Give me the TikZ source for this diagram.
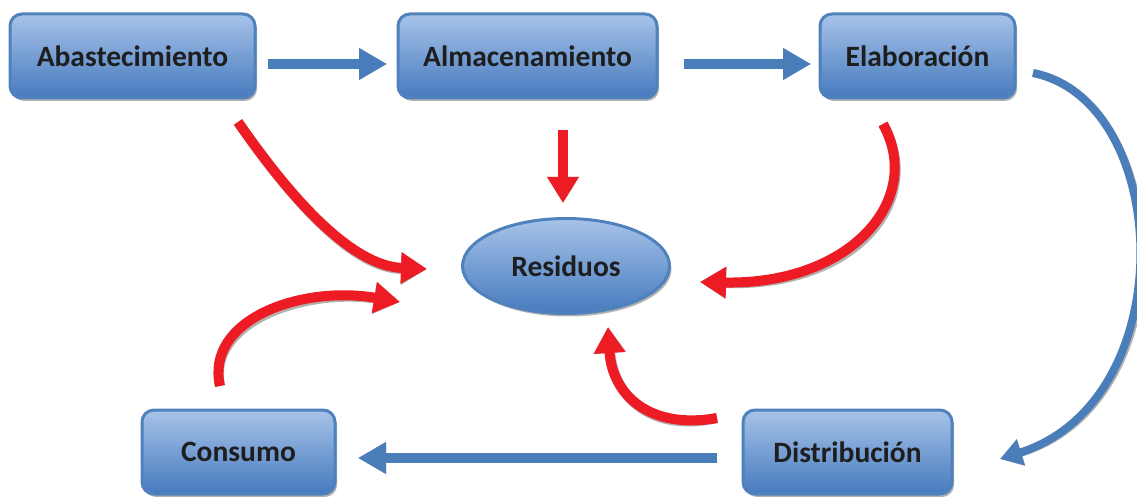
\documentclass[tikz,border=0pt]{standalone}
\usepackage{fontspec}
\setmainfont{Carlito}
\usetikzlibrary{arrows.meta,shadows,shapes.geometric}
\definecolor{boxline}{RGB}{79,129,189}
\definecolor{boxtop}{RGB}{167,195,233}
\definecolor{boxbot}{RGB}{70,122,190}
\definecolor{arrblue}{RGB}{74,126,187}
\definecolor{arrred}{RGB}{237,28,36}
\definecolor{txt}{RGB}{30,30,30}
\definecolor{shd}{RGB}{178,178,178}
\newcommand\shadowarrow[2]{\draw[#1,draw=shd,shift={(2,3)}] #2; \draw[#1] #2;}
\begin{document}
\begin{tikzpicture}[x=1pt,y=-1pt,
  procbox/.style={draw=boxline, line width=3pt, top color=boxtop, bottom color=boxbot,
    rounded corners=12pt, inner sep=0pt, text=txt,
    font=\fontsize{29.5}{31}\selectfont\bfseries,
    drop shadow={shadow xshift=2pt, shadow yshift=-3pt, fill=shd, opacity=1}},
  ovalbox/.style={procbox, ellipse, rounded corners=0pt},
  redarr/.style={draw=arrred, line width=10pt, line cap=butt, -{Triangle[length=26pt,width=30pt]}},
  bluearr/.style={draw=arrblue, line width=10pt, line cap=butt, -{Triangle[length=28pt,width=30pt]}},
  bluecurve/.style={draw=arrblue, line width=8pt, line cap=butt, -{Triangle[length=22pt,width=26pt]}}]
\useasboundingbox (0,0) rectangle (1137,497);

% nodes
\node[procbox, minimum width=245pt, minimum height=84pt] (abas) at (132.5,56) {Abastecimiento};
\node[procbox, minimum width=259pt, minimum height=84pt] (alma) at (527.5,56) {Almacenamiento};
\node[procbox, minimum width=195pt, minimum height=84pt] (elab) at (917.5,56) {Elaboración};
\node[procbox, minimum width=193pt, minimum height=84pt] (cons) at (238.5,452) {Consumo};
\node[procbox, minimum width=209pt, minimum height=84pt] (dist) at (847.5,452) {Distribución};
\node[ovalbox, minimum width=207pt, minimum height=95pt] (resi) at (566,266) {Residuos};

% connector end points
\coordinate (abasE) at (268,64);   \coordinate (almaW) at (387,64);
\coordinate (almaE) at (684,64);   \coordinate (elabW) at (811,64);
\coordinate (distW) at (717,458);  \coordinate (consE) at (358,458);
\coordinate (elabR) at (1033,73);  \coordinate (distR) at (1000,459);
\coordinate (abasS) at (238,122);  \coordinate (resNW) at (427,269);
\coordinate (almaS) at (563,130);  \coordinate (resN)  at (563,203);
\coordinate (elabS) at (883,124);  \coordinate (resE)  at (700,282);
\coordinate (consN) at (220,386);  \coordinate (resW)  at (400,302);
\coordinate (distN) at (717,418);  \coordinate (resS)  at (608,327);

% blue flow arrows
\shadowarrow{bluearr}{(abasE) -- (almaW)}
\shadowarrow{bluearr}{(almaE) -- (elabW)}
\shadowarrow{bluearr}{(distW) -- (consE)}
\shadowarrow{bluecurve}{(elabR) .. controls (1172,100) and (1185,400) .. (distR)}

% red waste arrows
\shadowarrow{redarr}{(abasS) .. controls (292,200) and (352,266) .. (resNW)}
\shadowarrow{redarr}{(almaS) -- (resN)}
\shadowarrow{redarr}{(elabS) .. controls (925,200) and (850,285) .. (resE)}
\shadowarrow{redarr}{(consN) .. controls (205,320) and (300,285) .. (resW)}
\shadowarrow{redarr}{(distN) .. controls (650,430) and (612,395) .. (resS)}
\end{tikzpicture}
\end{document}
